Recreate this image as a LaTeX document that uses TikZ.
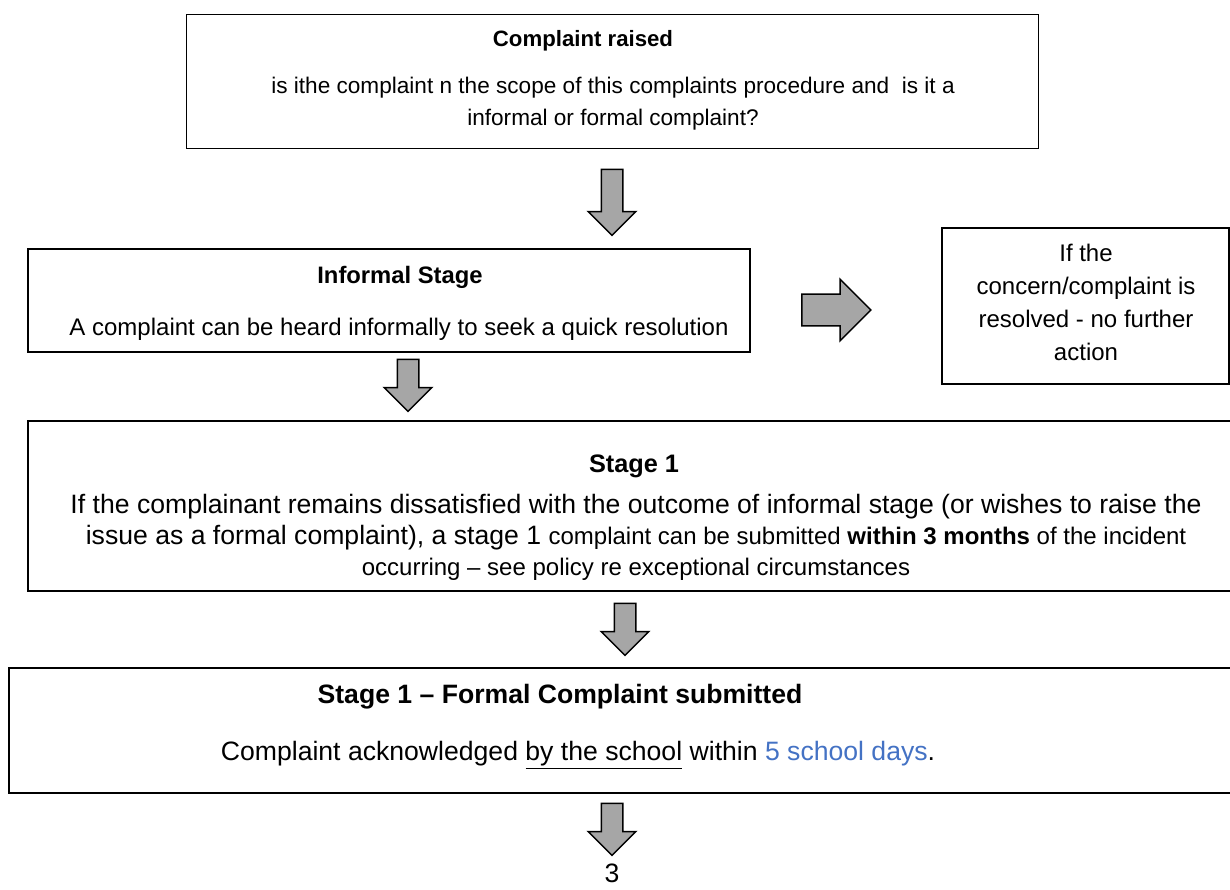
\documentclass[tikz,border=0pt]{standalone}
\usepackage{fontspec}
\setmainfont{Liberation Sans}
\usepackage{xcolor}
\usetikzlibrary{shapes.arrows}

\definecolor{arrowgray}{RGB}{166,166,166}
\definecolor{daysblue}{RGB}{68,114,196}
\newcommand{\fsz}[2]{\fontsize{#1}{#2}\selectfont}

\begin{document}
\begin{tikzpicture}[x=1pt, y=-1pt,
    box/.style={draw, line width=2pt, inner sep=0pt},
    txt/.style={align=center, inner sep=0pt},
    blockarrow/.style={single arrow, draw, line width=1.5pt, fill=arrowgray, inner xsep=0pt,
        single arrow tip angle=90},
    downarrow/.style={blockarrow, inner ysep=10pt, single arrow head extend=13pt, rotate=-90}]
    \useasboundingbox (0,0) rectangle (1230,890);

    \node[box, line width=1pt, minimum width=852pt, minimum height=134pt] (raised) at (612,82) {};
    \node[txt, font=\fsz{22.2}{27}\bfseries] (raisedhead) at (583,41) {Complaint raised};
    \node[txt, font=\fsz{22.6}{32}] (raisedtext) at (613,104) {is ithe complaint n the scope of this complaints procedure and~ is it a\\informal or formal complaint?};

    \node[downarrow, minimum height=66pt] (arr1) at (612,197) {};

    \node[box, minimum width=722pt, minimum height=103pt] (informal) at (389,300.5) {};
    \node[txt, font=\fsz{23.8}{28}\bfseries] (informalhead) at (400,277) {Informal Stage};
    \node[txt, font=\fsz{24}{28}] (informaltext) at (399,329) {A complaint can be heard informally to seek a quick resolution};

    \node[blockarrow, inner ysep=15pt, single arrow head extend=15pt, minimum height=69pt] (arr2) at (828.5,310) {};

    \node[box, minimum width=287pt, minimum height=156pt] (resolved) at (1085.5,306) {};
    \node[txt, font=\fsz{24}{33}] (resolvedtext) at (1086,302.5) {If the\\concern/complaint is\\resolved - no further\\action};

    \node[downarrow, minimum height=52pt] (arr3) at (408,380) {};

    \node[box, minimum width=1212pt, minimum height=170pt] (stageone) at (634,506) {};
    \node[txt, font=\fsz{25.3}{30}\bfseries] (stageonehead) at (634,466) {Stage 1};
    \node[txt, font=\fsz{26.6}{31}] (stageonetext) at (636,537) {If the complainant remains dissatisfied with the outcome of informal stage (or wishes to raise the\\
        issue as a formal complaint), a stage 1 {\fsz{24}{31}complaint can be submitted \textbf{within 3 months} of the incident}\\
        {\fsz{24}{31}occurring -- see policy re exceptional circumstances}};

    \node[downarrow, minimum height=52pt] (arr4) at (625,624) {};

    \node[box, minimum width=1231pt, minimum height=125pt] (formal) at (624.5,730.5) {};
    \node[txt, font=\fsz{26.6}{31}\bfseries] (formalhead) at (560,697) {Stage 1 -- Formal Complaint submitted};
    \node[txt, font=\fsz{26.6}{31}] (formaltext) at (578,755) {Complaint acknowledged \underline{by the school} within \textcolor{daysblue}{5 school days}.};

    \node[downarrow, minimum height=52pt] (arr5) at (612,824) {};
    \node[txt, font=\fsz{26.6}{31}] (pagenum) at (612,873) {3};
\end{tikzpicture}
\end{document}
